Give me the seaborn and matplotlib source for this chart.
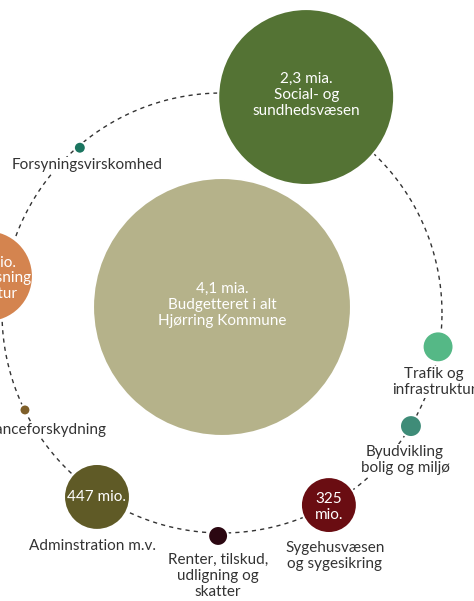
import numpy as np
import pandas as pd
import matplotlib
matplotlib.use('Agg')
import matplotlib.pyplot as plt
import seaborn as sns

# ── Data ──────────────────────────────────────────────────────────────────────
total_amount = '4,1 mia.'
total_label  = 'Budgetteret i alt\nHjørring Kommune'

categories = ['Social- og\nsundhedsvæsen', 'Forsyningsvirskomhed', 'Undervisning\nog kultur',
              'Balanceforskydning', 'Adminstration m.v.',
              'Renter, tilskud,\nudligning og\nskatter', 'Sygehusvæsen\nog sygesikring',
              'Byudvikling\nbolig og miljø', 'Trafik og\ninfrastruktur']
amounts    = ['2,3 mia.', '', '965 mio.', '', '447 mio.', '', '325\nmio.', '', '']

# ── Colors ────────────────────────────────────────────────────────────────────
CENTER_COL = '#B5B28A'
colors = ['#547334', '#1B7560', '#D4844F', '#7E5F2A', '#5F5A26',
          '#2B0711', '#6A0D12', '#3F8C78', '#55B886']
DARK = '#333333'

# ── Layout (pixel space, 474 x 601) ───────────────────────────────────────────
CX, CY, RING = 222, 313, 220
angles  = [68.7, 130.7, 171.1, 206.2, 235.8, 269.0, 299.1, 329.1, 351.1]
dists   = [231.8, 218.0, 237.9, 219.6, 222.4, 223.0, 219.8, 220.2, 218.7]
radii   = [88, 6, 46, 5.5, 33, 10, 28, 11, 15.5]
inner   = [True, False, True, False, True, False, True, False, False]
label_xy = [None, (87, 165), None, (41, 430), (93, 546), (218, 576),
            (335, 556), (405, 460), (434, 382)]
inner_dy = [-2, 0, 2, 0, 0, 0, 2, 0, 0]

DPI = 100
fig = plt.figure(figsize=(4.74, 6.01), dpi=DPI)
ax = fig.add_axes([0, 0, 1, 1])

sns.set_style('white')
plt.rcParams['font.family'] = ['Lato', 'DejaVu Sans']

# dashed ring
t = np.linspace(0, 2 * np.pi, 400)
ax.plot(CX + RING * np.cos(t), CY - RING * np.sin(t), color=DARK, lw=1.0,
        ls=(0, (3, 3)), zorder=1)

a = np.radians(angles)
df = pd.DataFrame({
    'x': [CX] + list(CX + np.array(dists) * np.cos(a)),
    'y': [307] + list(CY - np.array(dists) * np.sin(a)),
    'cat': ['total'] + categories,
})
r_all = np.array([129] + radii)
s_all = (2 * r_all * 72 / DPI) ** 2
pal = dict(zip(df['cat'], [CENTER_COL] + colors))

sns.scatterplot(data=df, x='x', y='y', hue='cat', palette=pal, s=s_all,
                edgecolor='white', linewidth=1.5, legend=False, ax=ax, zorder=3)
ax.set_xlim(0, 474)
ax.set_ylim(601, 0)
ax.axis('off')

FS = 11
LS = 1.15
# centre text
ax.text(df['x'][0], 305, total_amount + '\n' + total_label, ha='center', va='center',
        color='white', fontsize=FS, linespacing=LS, zorder=5)

for i, cat in enumerate(categories):
    x, y = df['x'][i + 1], df['y'][i + 1]
    if inner[i]:
        txt = amounts[i] + ('\n' + cat if i in (0, 2) else '')
        ax.text(x, y + inner_dy[i], txt, ha='center', va='center', color='white',
                fontsize=FS, linespacing=LS, zorder=5)
    if label_xy[i] is not None:
        lx, ly = label_xy[i]
        ax.text(lx, ly, cat, ha='center', va='center', color=DARK, fontsize=FS,
                linespacing=LS, zorder=4,
                bbox=dict(facecolor='white', edgecolor='none', pad=1))

fig.savefig('out.png', dpi=DPI, facecolor='white')
